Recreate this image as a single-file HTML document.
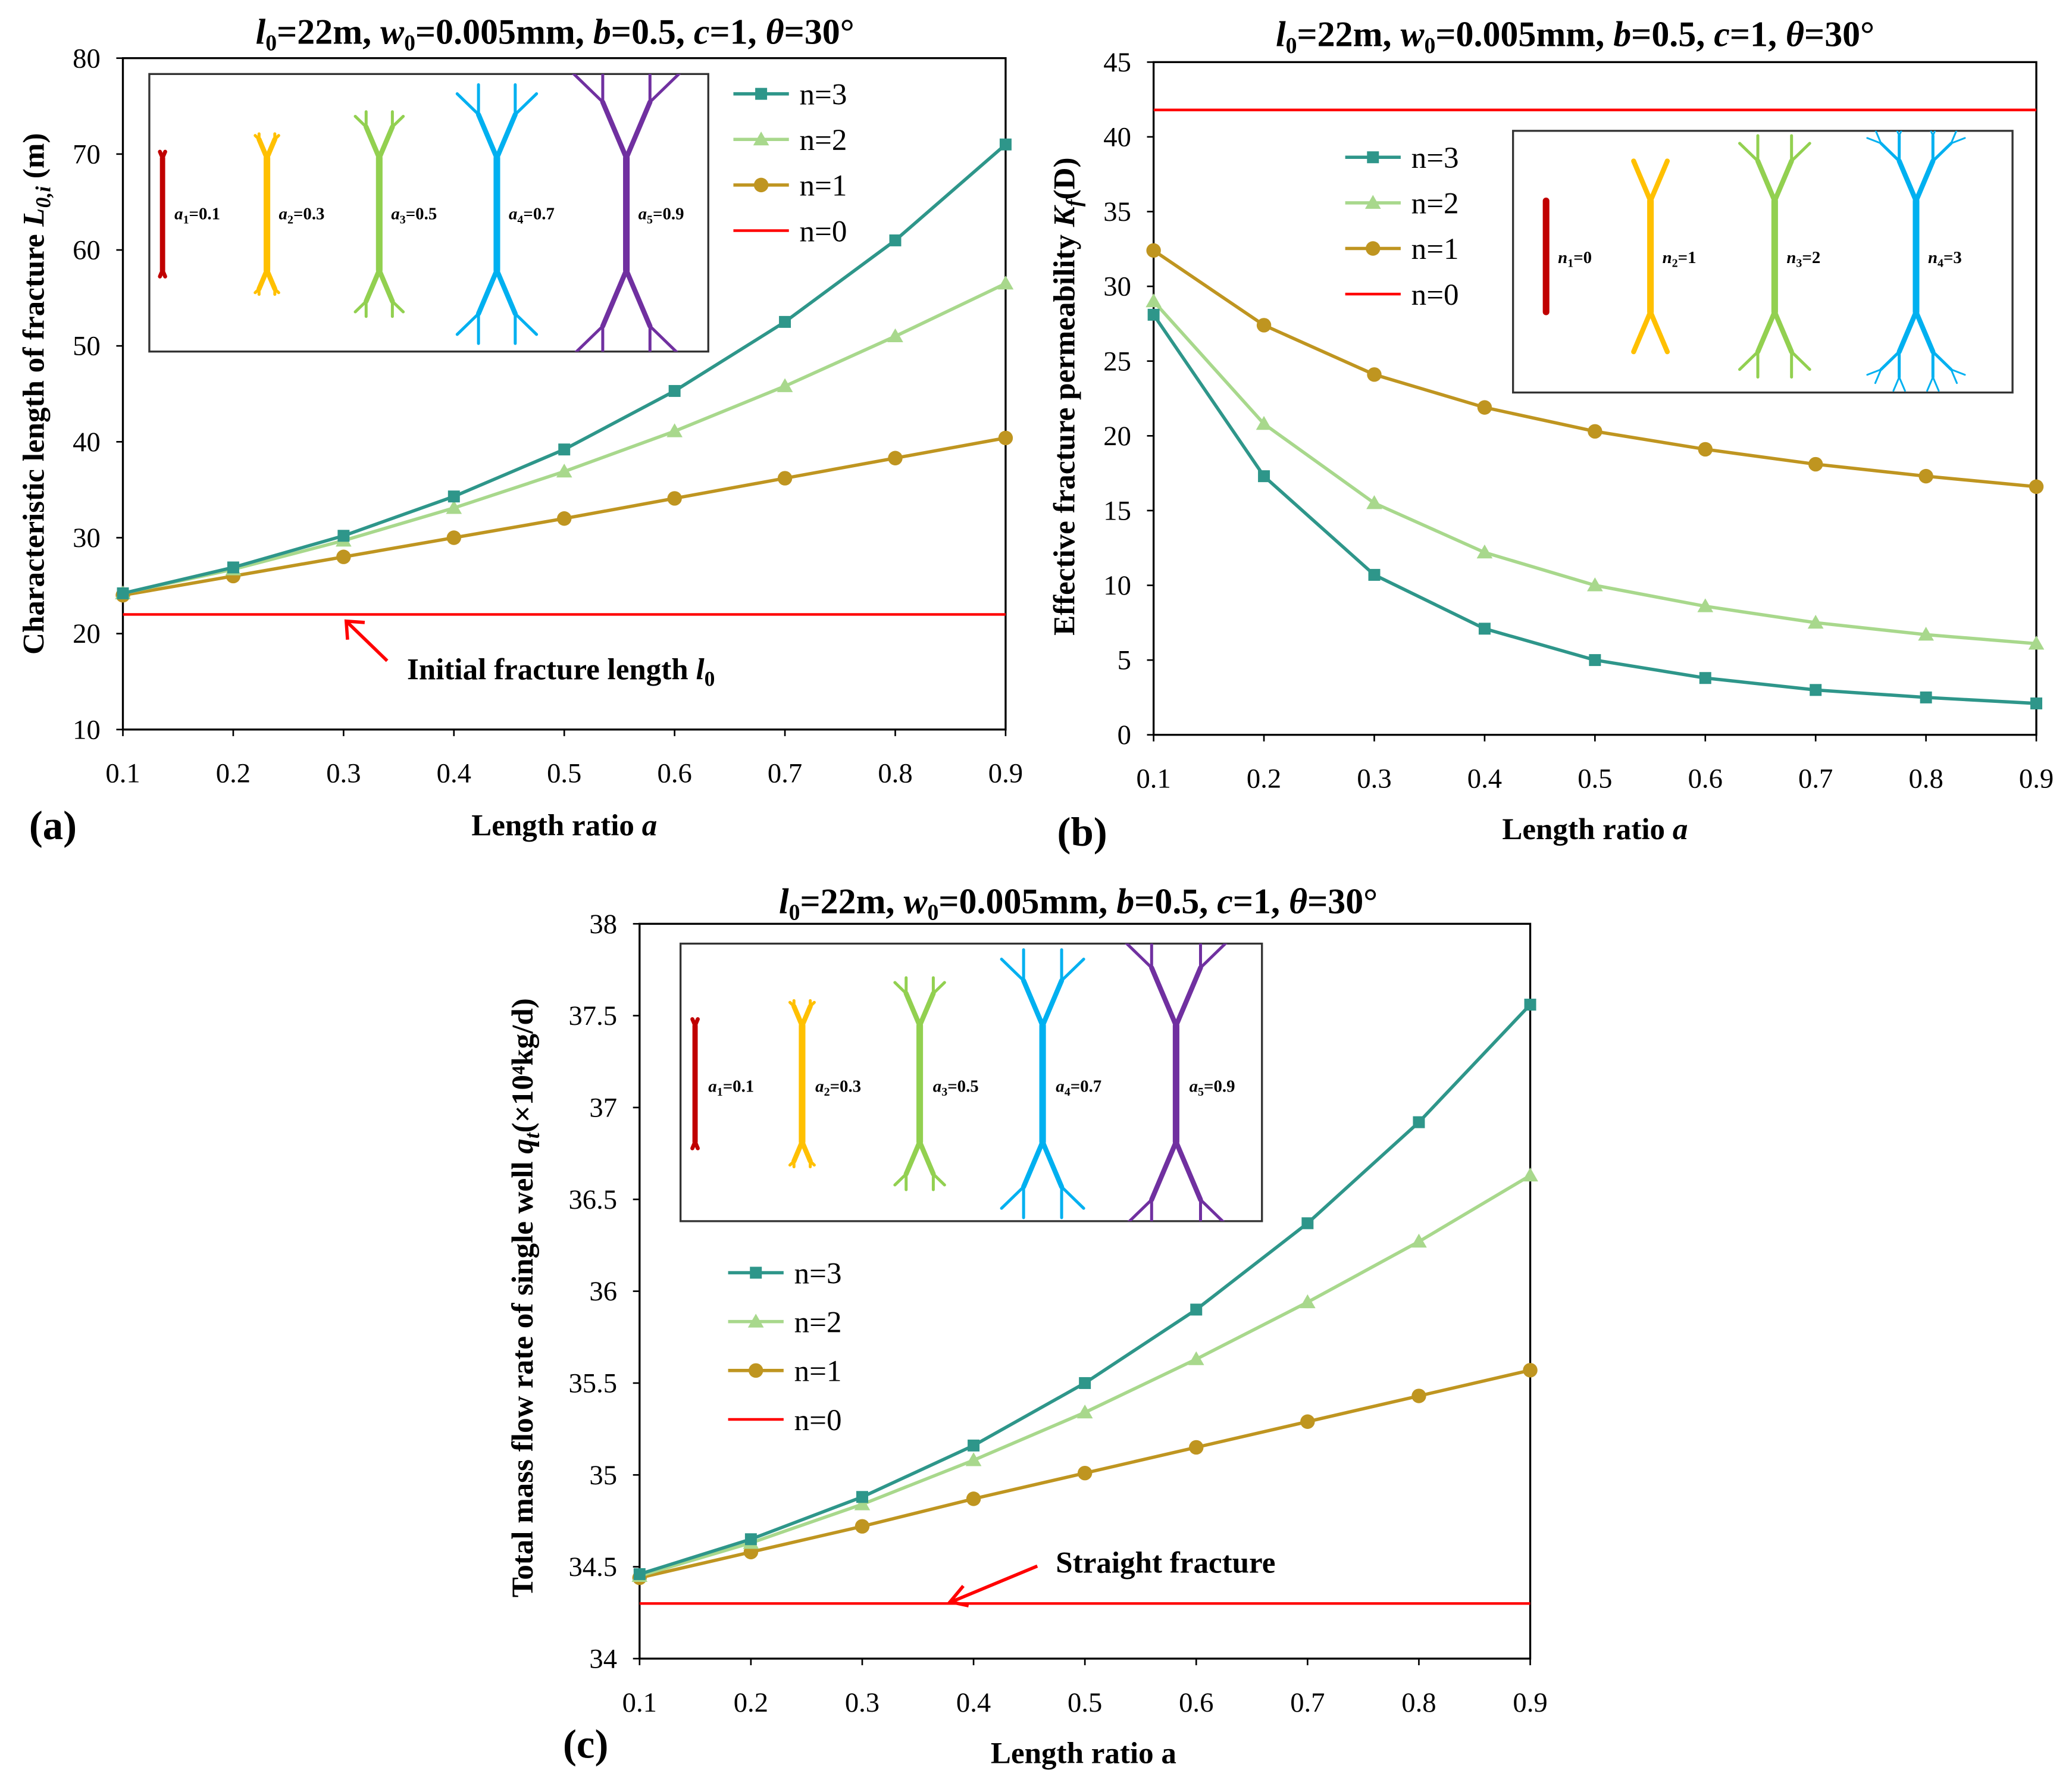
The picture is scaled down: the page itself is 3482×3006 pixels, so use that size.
<!DOCTYPE html>
<html><head><meta charset="utf-8"><style>
html,body{margin:0;padding:0;background:#fff;}
svg, svg text{font-family:"Liberation Serif","Times New Roman",serif;}
</style></head><body>
<svg id="fig" xmlns="http://www.w3.org/2000/svg" width="3482" height="3001" viewBox="0 0 1568 1351.4" font-family="Liberation Serif, serif">
<rect width="1568" height="1352" fill="#fff"/>
</svg>
<script>
// ---------- data ----------
const xCats = [0.1,0.2,0.3,0.4,0.5,0.6,0.7,0.8,0.9];
const xTickLabels = ["0.1","0.2","0.3","0.4","0.5","0.6","0.7","0.8","0.9"];
const aN3 = [24.2,26.9,30.2,34.3,39.2,45.3,52.5,61.0,71.0];
const aN2 = [24.2,26.7,29.7,33.1,36.9,41.1,45.8,51.0,56.5];
const aN1 = [24.0,26.0,28.0,30.0,32.0,34.1,36.2,38.3,40.4];
const aN0 = 22;
const aYTicks = [10,20,30,40,50,60,70,80];
const bN3 = [28.1,17.3,10.7,7.1,5.0,3.8,3.0,2.5,2.1];
const bN2 = [29.0,20.8,15.5,12.2,10.0,8.6,7.5,6.7,6.1];
const bN1 = [32.4,27.4,24.1,21.9,20.3,19.1,18.1,17.3,16.6];
const bN0 = 41.8;
const bYTicks = [0,5,10,15,20,25,30,35,40,45];
const cN3 = [34.46,34.65,34.88,35.16,35.50,35.90,36.37,36.92,37.56];
const cN2 = [34.45,34.63,34.84,35.08,35.34,35.63,35.94,36.27,36.63];
const cN1 = [34.44,34.58,34.72,34.87,35.01,35.15,35.29,35.43,35.57];
const cN0 = 34.3;
const cYTicks = [34,34.5,35,35.5,36,36.5,37,37.5,38];
const seriesNames = ["n=3","n=2","n=1","n=0"];

const C3="#2e968a", C2="#a8d88c", C1="#bf9520", C0="#ff0000";
const NS="http://www.w3.org/2000/svg";
const FF="Liberation Serif, serif";
const svg=document.getElementById('fig');
function el(tag,attrs,parent){const e=document.createElementNS(NS,tag);for(const k in attrs)e.setAttribute(k,attrs[k]);(parent||svg).appendChild(e);return e;}
function txt(x,y,s,attrs,parent){const t=el('text',Object.assign({x:x,y:y,'font-family':FF},attrs||{}),parent);t.innerHTML=s;return t;}

function marker(g,type,x,y,color){
  let m;
  if(type==='sq') m=el('rect',{x:x-4.5,y:y-4.5,width:9,height:9,fill:color},g);
  else if(type==='tri') m=el('polygon',{points:`${x},${y-6} ${x-6},${y+4.5} ${x+6},${y+4.5}`,fill:color},g);
  else m=el('circle',{cx:x,cy:y,r:5.5,fill:color},g);
  
  
}

function chart(cfg){
  const g=el('g',{});
  
  
  const X=v=>cfg.x0+(v-0.1)/0.8*(cfg.x1-cfg.x0);
  const Y=v=>cfg.y1-(v-cfg.ymin)/(cfg.ymax-cfg.ymin)*(cfg.y1-cfg.y0);
  const frame=el('rect',{x:cfg.x0,y:cfg.y0,width:cfg.x1-cfg.x0,height:cfg.y1-cfg.y0,fill:'none',stroke:'#000','stroke-width':1.5},g);
  
  
  cfg.yticks.forEach(v=>{
    el('line',{x1:cfg.x0-5,x2:cfg.x0,y1:Y(v),y2:Y(v),stroke:'#000','stroke-width':1.2},g);
    const t=txt(cfg.x0-17,Y(v)+7,String(v),{'font-size':21,'text-anchor':'end'},g);
    
    
  });
  xCats.forEach((v,i)=>{
    el('line',{x1:X(v),x2:X(v),y1:cfg.y1,y2:cfg.y1+5,stroke:'#000','stroke-width':1.2},g);
    const t=txt(X(v),cfg.y1+40,xTickLabels[i],{'font-size':21,'text-anchor':'middle'},g);
    
    
  });
  const l0=el('line',{x1:cfg.x0,x2:cfg.x1,y1:Y(cfg.n0),y2:Y(cfg.n0),stroke:C0,'stroke-width':2},g);
  
  
  [[cfg.n1,C1,'circ','n1'],[cfg.n2,C2,'tri','n2'],[cfg.n3,C3,'sq','n3']].forEach(([d,c,m,nm])=>{
    const p=el('polyline',{points:d.map((v,i)=>X(xCats[i])+','+Y(v)).join(' '),fill:'none',stroke:c,'stroke-width':2.5},g);
    
    
    d.forEach((v,i)=>marker(g,m,X(xCats[i]),Y(v),c));
  });
  const tt=txt(cfg.tx,cfg.ty,'<tspan font-style="italic">l</tspan><tspan font-size="17" dy="5">0</tspan><tspan dy="-5">=22m, </tspan><tspan font-style="italic">w</tspan><tspan font-size="17" dy="5">0</tspan><tspan dy="-5">=0.005mm, </tspan><tspan font-style="italic">b</tspan>=0.5, <tspan font-style="italic">c</tspan>=1, <tspan font-style="italic">θ</tspan>=30°',{'font-size':27,'font-weight':'bold','text-anchor':'middle'},g);
  
  
  const xl=txt(cfg.xlx,cfg.xly,cfg.xlabel,{'font-size':23,'font-weight':'bold','text-anchor':'middle'},g);
  
  
  const yl=txt(0,0,cfg.ylabel,{'font-size':23,'font-weight':'bold','text-anchor':'middle',transform:`translate(${cfg.ylx},${cfg.yly}) rotate(-90)`},g);
  
  
  const pl=txt(cfg.plx,cfg.ply,cfg.panel,{'font-size':31,'font-weight':'bold'},g);
  
  
  const lg=el('g',{},g);
  
  
  [[C3,'sq'],[C2,'tri'],[C1,'circ'],[C0,null]].forEach(([c,m],i)=>{
    const y=cfg.ly+i*cfg.lgap;
    const e=el('g',{},lg);
    
    
    el('line',{x1:cfg.lx,x2:cfg.lx+42,y1:y,y2:y,stroke:c,'stroke-width':m?2.5:2},e);
    if(m) marker(e,m,cfg.lx+21,y,c);
    txt(cfg.lx+50,y+8,seriesNames[i],{'font-size':23},e);
  });
  return {g,X,Y};
}

function tree(g,cx,cy,h,a,levels,color,w){
  const seg=(x1,y1,x2,y2,sw)=>el('line',{x1,y1,x2,y2,stroke:color,'stroke-width':sw,'stroke-linecap':'round'},g);
  seg(cx,cy-h/2,cx,cy+h/2,w);
  function br(x,y,ang,len,lev,sw){
    if(lev<=0)return;
    [-1,1].forEach(s=>{
      const an=ang+s*0.4;
      const x2=x+Math.sin(an)*len, y2=y-Math.cos(an)*len;
      seg(x,y,x2,y2,sw);
      br(x2,y2,an,len*a*0.9,lev-1,Math.max(1,sw*0.6));
    });
  }
  br(cx,cy-h/2,0,h*a*0.6,levels,w*0.75);
  br(cx,cy+h/2,Math.PI,h*a*0.6,levels,w*0.75);
}
function sublabel(g,x,y,v,s,val){
  txt(x,y,`<tspan font-style="italic">${v}</tspan><tspan font-size="9" dy="3">${s}</tspan><tspan dy="-3">=${val}</tspan>`,{'font-size':13,'font-weight':'bold'},g);
}
function insetBox(x,y,w,h,name){
  const g=el('g',{});
  
  
  el('rect',{x,y,width:w,height:h,fill:'#fff',stroke:'#333','stroke-width':1.5},g);
  const cp=el('clipPath',{id:name+'-clip'},g);el('rect',{x,y,width:w,height:h},cp);
  const inner=el('g',{'clip-path':`url(#${name}-clip)`},g);
  return inner;
}
const insetCols=["#c00000","#ffc000","#92d050","#00b0f0","#7030a0"];

// ---- chart a ----
chart({name:'chart-a',x0:93,x1:761,y0:44,y1:552,ymin:10,ymax:80,yticks:aYTicks,n3:aN3,n2:aN2,n1:aN1,n0:aN0,
 tx:420,ty:33,xlabel:'Length ratio <tspan font-style="italic">a</tspan>',xlx:427,xly:632,
 ylabel:'Characteristic length of fracture <tspan font-style="italic">L</tspan><tspan font-size="16" dy="5" font-style="italic">0,i</tspan><tspan dy="-5"> (m)</tspan>',ylx:33,yly:298,
 panel:'(a)',plx:22,ply:635,lx:555,ly:71,lgap:34.5});
{
 const ig=insetBox(113,56,423,210,'inset-a');
 [[123,0.1],[202,0.3],[287,0.5],[376,0.7],[474,0.9]].forEach(([x,a],i)=>{tree(ig,x,162,85,a,2,insetCols[i],i==0?4:5);sublabel(ig,x+9,166,'a',i+1,a);});
 const arr=el('g',{});
 
 
 el('line',{x1:293,y1:500,x2:263,y2:471,stroke:C0,'stroke-width':2.5},arr);
 el('polyline',{points:'263,484 262,470 276,471',fill:'none',stroke:C0,'stroke-width':2.5},arr);
 const an=txt(308,514,'Initial fracture length <tspan font-style="italic">l</tspan><tspan font-size="16" dy="5">0</tspan>',{'font-size':23,'font-weight':'bold'});
 
 
}
// ---- chart b ----
chart({name:'chart-b',x0:873,x1:1541,y0:47,y1:556,ymin:0,ymax:45,yticks:bYTicks,n3:bN3,n2:bN2,n1:bN1,n0:bN0,
 tx:1192,ty:35,xlabel:'Length ratio <tspan font-style="italic">a</tspan>',xlx:1207,xly:635,
 ylabel:'Effective fracture permeability <tspan font-style="italic">K</tspan><tspan font-size="16" dy="5" font-style="italic">f</tspan><tspan dy="-5">(D)</tspan>',ylx:813,yly:300,
 panel:'(b)',plx:800,ply:640,lx:1018,ly:119,lgap:34.5});
{
 const ig=insetBox(1145,99,378,198,'inset-b');
 [[1170,0],[1249,1],[1343,2],[1450,3]].forEach(([x,n],i)=>{tree(ig,x,194,84,0.65,n,insetCols[i],5);sublabel(ig,x+9,199,'n',i+1,n);});
}
// ---- chart c ----
chart({name:'chart-c',x0:484,x1:1158,y0:699,y1:1255,ymin:34,ymax:38,yticks:cYTicks,n3:cN3,n2:cN2,n1:cN1,n0:cN0,
 tx:816,ty:691,xlabel:'Length ratio a',xlx:820,xly:1334,
 ylabel:'Total mass flow rate of single well <tspan font-style="italic">q</tspan><tspan font-size="16" dy="5" font-style="italic">t</tspan><tspan dy="-5">(×10⁴kg/d)</tspan>',ylx:403,yly:982,
 panel:'(c)',plx:426,ply:1330,lx:551,ly:963,lgap:37});
{
 const ig=insetBox(515,714,440,210,'inset-c');
 [[526,0.1],[607,0.3],[696,0.5],[789,0.7],[890,0.9]].forEach(([x,a],i)=>{tree(ig,x,820,88,a,2,insetCols[i],i==0?4:5);sublabel(ig,x+10,826,'a',i+1,a);});
 const arr=el('g',{});
 
 
 el('line',{x1:785,y1:1185,x2:720,y2:1212,stroke:C0,'stroke-width':2.5},arr);
 el('polyline',{points:'729,1200 719,1212 733,1215',fill:'none',stroke:C0,'stroke-width':2.5},arr);
 const an=txt(799,1190,'Straight fracture',{'font-size':23,'font-weight':'bold'});
 
 
}
</script>
</body></html>
